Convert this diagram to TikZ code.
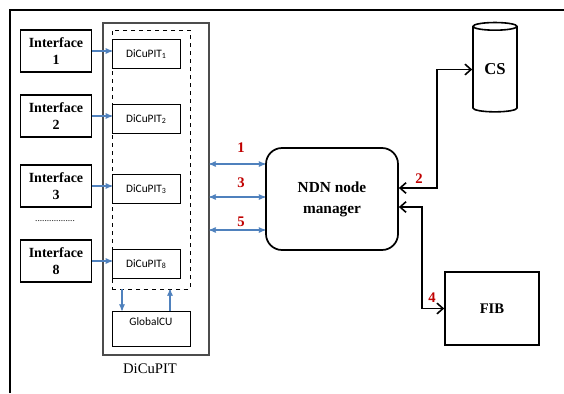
\documentclass[tikz,border=0pt]{standalone}
\usepackage{fontspec}
\setmainfont{Liberation Serif}
\newfontfamily\calibri{Carlito}
\usetikzlibrary{arrows}
\usetikzlibrary{arrows.meta}
\usetikzlibrary{shapes.geometric}
\definecolor{arrblue}{HTML}{4F81BD}
\definecolor{numred}{HTML}{C00000}

\begin{document}
\begin{tikzpicture}[x=.75pt, y=-.75pt,
  ifbox/.style={draw, line width=.8pt, minimum width=53pt, minimum height=31.5pt, inner sep=0pt, align=center, font=\bfseries\fontsize{10.5}{12.75}\selectfont},
  pitbox/.style={draw, line width=.6pt, minimum width=51pt, minimum height=21.75pt, inner sep=0pt, font=\calibri\fontsize{8.5}{10}\selectfont},
  bluearr/.style={arrblue, line width=.8pt, >=stealth'},
  blackarr/.style={black, line width=1.2pt, >={Straight Barb[length=4.5pt,width=8pt]}},
  num/.style={numred, font=\bfseries\fontsize{11}{13}\selectfont}]
\useasboundingbox (0,0) rectangle (564,393);
\draw[line width=1.6pt] (10,393) -- (10,10) -- (564,10);

\node[draw=black!70, line width=.8pt, minimum width=79.5pt, minimum height=249pt, inner sep=0pt] (dicupit) at (156,189) {};
\node[draw, dashed, line width=.7pt, minimum width=58.5pt, minimum height=194.25pt, inner sep=0pt] (pitgroup) at (151,159.5) {};
\node[font=\fontsize{11}{13}\selectfont] (dicupitlabel) at (150,369) {DiCuPIT};

\foreach \i/\y in {1/51,2/116,3/186,8/261} {
 \node[ifbox] (if\i) at (56,\y) {Interface\\\i};
 \node[pitbox, anchor=west] (pit\i) at (112,\y+3) {DiCuPIT\textsubscript{\i}};
 \draw[bluearr, ->] (if\i.east) -- (if\i.east -| pit\i.west);
}
\node[font=\fontsize{7}{8}\selectfont] (dots) at (55,221) {.................};

\node[draw, line width=.6pt, minimum width=58.5pt, minimum height=26.25pt, inner sep=0pt] (gcu) at (151,328.5) {};
\node[font=\calibri\fontsize{8.5}{10}\selectfont] (gculabel) at (151,322) {GlobalCU};
\draw[bluearr, ->] (pitgroup.south -| 122,0) -- (gcu.north -| 122,0);
\draw[bluearr, ->] (gcu.north -| 170,0) -- (pitgroup.south -| 170,0);

\node[draw, rounded corners=12pt, line width=1.3pt, minimum width=99pt, minimum height=76.5pt, align=center, font=\bfseries\fontsize{11.5}{15.75}\selectfont] (ndn) at (332,199) {NDN node\\manager};

\foreach \n/\y/\ly in {1/164/148,3/197/183,5/230/222} {
 \draw[bluearr, <->] (dicupit.east |- 0,\y) -- (ndn.west |- 0,\y);
 \node[num] (lbl\n) at (241,\ly) {\n};
}

\node[cylinder, shape border rotate=90, draw, line width=1.2pt, aspect=.36, minimum width=33pt, minimum height=67pt, inner sep=0pt, font=\bfseries\fontsize{12.5}{14}\selectfont] (cs) at (495,69.5) {CS};
\node[draw, line width=1.2pt, minimum width=70.5pt, minimum height=54.75pt, inner sep=0pt, font=\bfseries\fontsize{11}{13}\selectfont] (fib) at (492,308.5) {FIB};

\draw[blackarr, <->] (ndn.east |- 0,188) -- (437,188) |- (cs.west);
\draw[blackarr, <->] (ndn.east |- 0,207) -- (422,207) |- (fib.west);
\node[num] (lbl2) at (419,179) {2};
\node[num] (lbl4) at (432,298) {4};
\end{tikzpicture}
\end{document}
